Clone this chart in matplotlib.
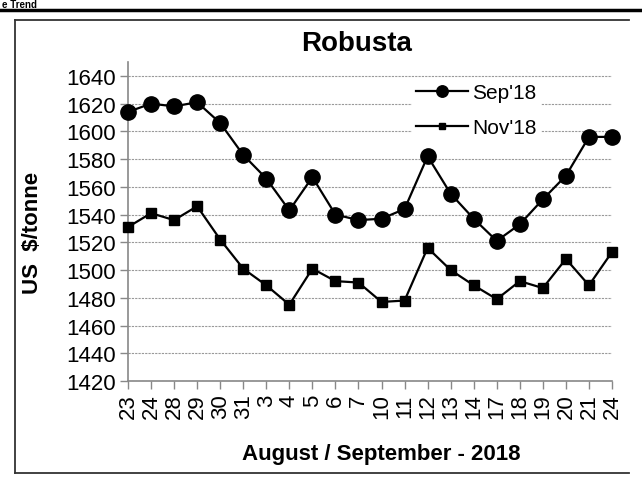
import matplotlib
matplotlib.use("Agg")
import matplotlib.pyplot as plt
from matplotlib.lines import Line2D

plt.rcParams["font.family"] = ["Liberation Sans", "DejaVu Sans"]

dates = ["23", "24", "28", "29", "30", "31", "3", "4", "5", "6", "7",
         "10", "11", "12", "13", "14", "17", "18", "19", "20", "21", "24"]
sep18 = [1614, 1620, 1618, 1621, 1606, 1583, 1566, 1543, 1567, 1540, 1536,
         1537, 1544, 1582, 1555, 1537, 1521, 1533, 1551, 1568, 1596, 1596]
nov18 = [1531, 1541, 1536, 1546, 1522, 1501, 1489, 1475, 1501, 1492, 1491,
         1477, 1478, 1516, 1500, 1489, 1479, 1492, 1487, 1508, 1489, 1513]
yticks = list(range(1420, 1641, 20))

W, H = 642, 485
fig = plt.figure(figsize=(W / 100, H / 100), dpi=100)

# page decorations: heading fragment, thick rule, chart frame
fig.text(2 / W, 1 - 0.5 / H, "e Trend", ha="left", va="top",
         fontsize=7, fontweight="bold")
fig.add_artist(Line2D([0, 1], [1 - 10.5 / H] * 2, color="black", lw=2.5))
frame_kw = dict(color="#333333", lw=1.3)
fig.add_artist(Line2D([15 / W, 629 / W], [1 - 21 / H] * 2, **frame_kw))
fig.add_artist(Line2D([15 / W, 629 / W], [1 - 474 / H] * 2, **frame_kw))
fig.add_artist(Line2D([15 / W, 15 / W], [1 - 21 / H, 1 - 474 / H], **frame_kw))

ax = fig.add_axes([128 / W, 1 - 382 / H, 484 / W, (382 - 63) / H])
x = list(range(len(dates)))

ax.plot(x, sep18, color="black", lw=1.6, marker="o", markersize=11,
        label="Sep'18", clip_on=False, zorder=3)
ax.plot(x, nov18, color="black", lw=1.6, marker="s", markersize=6.5,
        label="Nov'18", clip_on=False, zorder=3)

ax.set_xlim(0, len(dates) - 1)
ax.set_ylim(1420, 1650)
ax.set_yticks(yticks)
ax.set_xticks(x)
ax.set_xticklabels(dates, rotation=90, fontsize=16)
ax.tick_params(axis="y", labelsize=16)
ax.tick_params(axis="both", length=6, width=1, color="#888888", pad=3)

for s in ["top", "right"]:
    ax.spines[s].set_visible(False)
for s in ["left", "bottom"]:
    ax.spines[s].set_color("#888888")
    ax.spines[s].set_linewidth(1.2)

ax.yaxis.grid(True, color="#999999", lw=0.8, linestyle=(0, (2, 1)))
ax.set_axisbelow(True)

fig.text(357 / W, 1 - 44 / H, "Robusta", ha="center", va="center",
         fontsize=20, fontweight="bold")
fig.text(381 / W, 1 - 455 / H, "August / September - 2018", ha="center",
         va="center", fontsize=16, fontweight="bold")
fig.text(33 / W, 1 - 233 / H, "US  $/tonne", ha="center", va="center",
         rotation=90, fontsize=16, fontweight="bold")

leg = ax.legend(loc="upper left", bbox_to_anchor=(412 / W, 1 - 80 / H),
                bbox_transform=fig.transFigure, fontsize=15, frameon=True,
                fancybox=False, edgecolor="none", facecolor="white",
                framealpha=1, handlelength=2.5, handletextpad=0.2,
                labelspacing=0.75, markerscale=0.75, borderpad=0.2,
                borderaxespad=0)

fig.savefig("out.png", dpi=100)
